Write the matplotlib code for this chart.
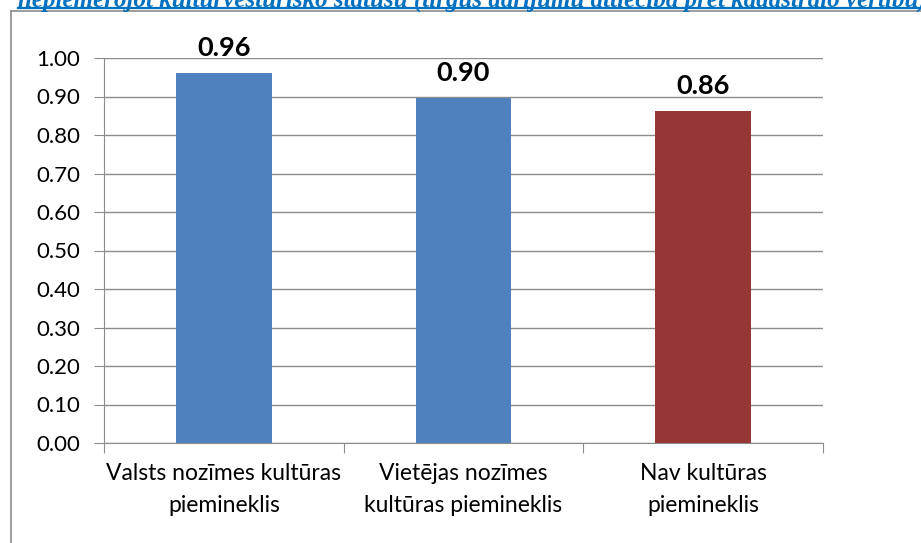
import matplotlib
matplotlib.use("Agg")
import matplotlib.pyplot as plt
from matplotlib.lines import Line2D

categories = ["Valsts nozīmes kultūras\npiemineklis", "Vietējas nozīmes\nkultūras piemineklis", "Nav kultūras\npiemineklis"]
values = [0.961, 0.896, 0.862]
colors = ["#4F81BD", "#4F81BD", "#953735"]
yticks = [0.0, 0.1, 0.2, 0.3, 0.4, 0.5, 0.6, 0.7, 0.8, 0.9, 1.0]
title = "nepiemērojot kultūrvēsturisko statusu (tirgus darījumu attiecība pret kadastrālo vērtību)"

W, H = 921, 543
fig = plt.figure(figsize=(W/100, H/100), dpi=100)
font = "Lato"

def fx(px): return px / W
def fy(py): return 1 - py / H

# cropped title
fig.text(fx(18), fy(6.5), title, fontsize=18, family="Liberation Serif", fontweight="bold",
         style="italic", color="#0070C0", ha="left", va="baseline")
fig.add_artist(Line2D([fx(18), 1], [fy(8), fy(8)], color="#0070C0", lw=1.6))
# outer chart border
fig.add_artist(Line2D([fx(11), 1], [fy(10.5), fy(10.5)], color="#8C8C8C", lw=1.2))
fig.add_artist(Line2D([fx(11), fx(11)], [fy(10.5), 0], color="#8C8C8C", lw=1.2))

ax = fig.add_axes([fx(104), fy(443), fx(823) - fx(104), fy(58) - fy(443)])
x = list(range(len(categories)))
ax.bar(x, values, width=0.4, color=colors, zorder=3)
ax.set_xlim(-0.5, 2.5)
ax.set_ylim(0, 1.0)
ax.set_yticks(yticks)
ax.set_yticklabels([f"{v:.2f}" for v in yticks], fontsize=16, family=font)
ax.yaxis.grid(True, color="#8C8C8C", lw=1, zorder=0)
ax.set_axisbelow(True)
for s in ["top", "right"]:
    ax.spines[s].set_visible(False)
ax.spines["left"].set_color("#8C8C8C")
ax.spines["bottom"].set_color("#8C8C8C")
ax.tick_params(axis="y", length=7, color="#8C8C8C", pad=10)
ax.set_xticks([-0.5, 0.5, 1.5, 2.5])
ax.set_xticklabels([])
ax.tick_params(axis="x", length=7, color="#8C8C8C")
for xi, c in zip(x, categories):
    ax.text(xi, -0.053, c, ha="center", va="top", fontsize=16.5, family=font,
            linespacing=1.62, transform=ax.transData)
for xi, v in zip(x, values):
    ax.text(xi, v + 0.035, f"{v:.2f}", ha="center", va="bottom", fontsize=19.5,
            fontweight="bold", family=font)

fig.savefig("out.png", dpi=100)
